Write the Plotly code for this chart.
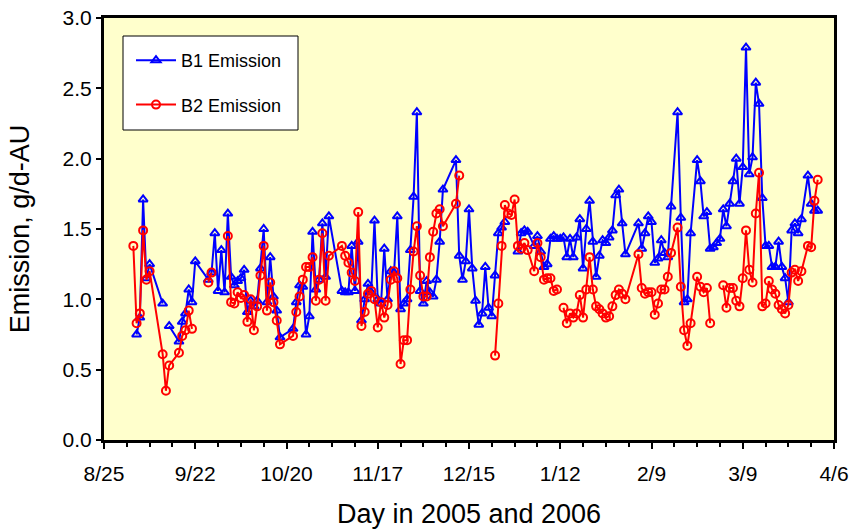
import pandas as pd
import plotly.graph_objects as go

START = pd.Timestamp("2005-08-25")

# day offset from 8/25/2005
DAY = [9, 10, 11, 12, 13, 14, 18, 19, 20, 23, 24, 25, 26, 27, 28,
       32, 33, 34, 35, 36, 37, 38, 39, 40, 41, 42, 43, 44, 45, 46, 47, 48, 49, 50, 51, 52, 53, 54,
       58, 59, 60, 61, 62, 63, 64, 65, 66, 67, 68, 69,
       73, 74, 75, 76, 77, 78, 79, 80, 81, 82, 83, 84, 85, 86, 87, 88, 89, 90, 91, 92, 93, 94,
       95, 96, 97, 98, 99, 100, 101, 102, 103, 104,
       108, 109, 110, 111, 112, 113, 114, 115, 116, 117, 118, 119, 120, 121, 122, 123, 124, 125,
       126, 127, 128, 129, 130,
       132, 133, 134, 135, 136, 137, 138, 139, 140, 141, 142, 143, 144, 145, 146, 147, 148, 149,
       150, 151, 152, 153, 154, 155, 156, 157, 158, 159, 160,
       164, 165, 166, 167, 168, 169, 170, 171, 172, 173, 174,
       176, 177, 178, 179, 180,
       182, 183, 184, 185, 186, 187, 188, 189, 190, 191, 192, 193, 194, 195, 196, 197, 198, 199,
       200, 201, 202, 203, 204, 205, 206, 207, 208, 209, 210, 211, 212, 213, 214,
       216, 217, 218, 219]

B1 = [None, 0.75, 0.87, 1.71, 1.15, 1.25, 0.97, None, 0.81, 0.70, 0.84, 0.90, 1.07, 0.98, 1.27,
      1.14, 1.19, 1.47, 1.06, 1.35, 1.05, 1.61, 1.16, 1.10, 1.13, 1.15, 1.21, 0.91, 0.99, 0.95, 0.99, 1.22, 1.50, 0.98, 1.30, 1.02, 0.92, 0.73,
      0.79, 0.98, 1.10, 1.09, 0.75, 0.88, 1.48, 1.07, 1.14, 1.54, 1.16, 1.59,
      1.06, 1.05, 1.05, 1.38, 1.06, 1.41, 0.85, 1.00, 1.11, 1.05, 1.56, 1.00, 0.97, 1.36, 1.00, 1.20, 1.19, 1.59, 0.93, 0.97, 1.00, 1.35,
      1.73, 2.33, 1.06, 0.97, 1.13, 1.05, 1.02, 1.14, 1.41, 1.78,
      1.99, 1.31, 1.14, 1.27, 1.64, 1.22, 0.99, 0.82, 0.90, 1.23, 0.94, 0.88, 1.17, 1.47, 1.51, 1.55, None, None,
      None, 1.34, 1.47, 1.49, 1.48,
      1.38, 1.45, 1.34, 1.23, 1.25, 1.43, 1.45, 1.43, 1.43, 1.44, 1.30, 1.43, 1.30, 1.44, 1.57, 1.22, 1.50, 1.70,
      1.41, 1.16, 1.31, 1.42, 1.40, 1.44, 1.49, 1.74, 1.78, 1.54, 1.32,
      1.54, 1.36, 1.47, 1.59, 1.55, 1.26, 1.29, 1.42, 1.33, 1.30, 1.66,
      2.33, 1.58, 0.98, 1.00, 1.47,
      1.99, 1.84, 1.59, 1.62, 1.36, 1.37, 1.40, 1.43, 1.64, 1.52, 1.68, 1.84, 2.00, 1.68, 1.94, 2.79, 1.89, 2.01,
      2.54, 2.39, 1.72, 1.38, 1.38, 1.23, 1.23, 1.41, 1.23, 1.15, 0.98, 1.49, 1.54, 1.47, 1.57,
      1.88, 1.68, 1.63, 1.63]

B2 = [1.38, 0.83, 0.90, 1.49, 1.14, 1.20, 0.61, 0.35, 0.53, 0.62, 0.74, 0.78, 0.92, 0.79, None,
      1.12, 1.19, None, None, None, None, 1.45, 0.98, 0.97, 1.05, 1.01, 1.03, 0.84, 1.00, 0.78, 0.95, 1.17, 1.38, 0.92, 1.12, 0.98, 0.85, 0.68,
      0.74, 0.91, 1.02, 1.14, 1.23, 1.23, 1.30, 0.99, 1.14, 1.47, 0.99, 1.31,
      1.38, 1.31, 1.26, 1.19, 1.13, 1.62, 0.81, 0.91, 1.04, 1.06, 1.00, 0.80, 0.98, 0.87, 0.96, 1.14, 1.20, 1.15, 0.54, 0.71, 0.71, 1.07,
      1.34, 1.52, 1.17, 1.02, 1.02, 1.30, 1.48, 1.61, 1.64, 1.52,
      1.68, 1.88, None, None, None, None, None, None, None, None, None, None, 0.60, 0.97, 1.38, 1.67, 1.61, 1.60,
      1.71, 1.38, 1.36, 1.40, 1.35,
      1.20, 1.40, 1.30, 1.14, 1.15, 1.15, 1.06, 1.07, None, 0.94, 0.83, 0.90, 0.87, 0.90, 1.03, 0.87, 1.07, 1.30,
      1.07, 0.95, 0.93, 0.90, 0.87, 0.88, 0.95, 1.03, 1.07, 1.04, 1.00,
      1.32, 1.08, 1.04, 1.05, 1.05, 0.89, 0.97, 1.07, 1.07, 1.16, 1.33,
      1.51, 1.09, 0.78, 0.67, 0.83,
      1.16, 1.09, 1.05, 1.08, 0.83, None, None, None, 1.10, 0.94, 1.08, 1.08, 0.99, 0.95, 1.15, 1.49, 1.21, 1.12,
      1.61, 1.90, 0.95, 0.97, 1.13, 1.07, 1.04, 0.96, 0.93, 0.90, 0.96, 1.19, 1.21, 1.13, 1.20,
      1.38, 1.37, 1.70, 1.85]

TICK_DAYS = [0, 28, 56, 84, 112, 140, 168, 196, 224]
TICK_LABELS = ["8/25", "9/22", "10/20", "11/17", "12/15", "1/12", "2/9", "3/9", "4/6"]

dates = [START + pd.Timedelta(days=d) for d in DAY]
tickvals = [START + pd.Timedelta(days=d) for d in TICK_DAYS]

FONT = "Liberation Sans, Arial, sans-serif"

# page geometry (body margin removed by post_script)
W, H = 852, 529
P_LEFT, P_RIGHT, P_TOP, P_BOTTOM = 104, 834, 18, 440   # plot area in page pixels
ML, MT = P_LEFT, P_TOP
MR, MB = W - P_RIGHT, H - P_BOTTOM
PW, PH = W - ML - MR, H - MT - MB


def px_x(p):
    return (p - ML) / PW


def px_y(p):
    return 1 - (p - MT) / PH


fig = go.Figure()
fig.add_trace(go.Scatter(
    x=dates, y=B1, mode="lines+markers", name="B1 Emission",
    line=dict(color="#0000FF", width=2),
    marker=dict(symbol="triangle-up-open", size=8, color="#0000FF", line=dict(width=2, color="#0000FF")),
    connectgaps=False, legendgroup="b1"))
fig.add_trace(go.Scatter(
    x=dates, y=B2, mode="lines+markers", name="B2 Emission",
    line=dict(color="#FF0000", width=2),
    marker=dict(symbol="circle-open", size=8, color="#FF0000", line=dict(width=2, color="#FF0000")),
    connectgaps=False, legendgroup="b2"))

# legend frame
fig.add_shape(type="rect", xref="paper", yref="paper",
              x0=px_x(123), x1=px_x(298), y0=px_y(130), y1=px_y(36),
              fillcolor="white", line=dict(color="black", width=1), layer="above")

fig.update_layout(
    width=W, height=H,
    margin=dict(l=ML, r=MR, t=MT, b=MB),
    paper_bgcolor="white", plot_bgcolor="#FFFFCC",
    font=dict(family=FONT, color="black"),
    showlegend=True,
    legend=dict(x=px_x(131), y=px_y(42), xanchor="left", yanchor="top",
                bgcolor="rgba(0,0,0,0)", borderwidth=0,
                font=dict(size=18, family=FONT), tracegroupgap=18,
                traceorder="grouped", itemwidth=40),
)
fig.update_xaxes(
    type="date", automargin=False,
    range=[START, START + pd.Timedelta(days=224)],
    tickvals=tickvals, ticktext=TICK_LABELS,
    ticks="outside", ticklen=6, tickwidth=2, tickcolor="black",
    minor=dict(dtick=7 * 86400000, tick0=START, ticks="outside", ticklen=4, tickwidth=2, tickcolor="black"),
    showline=True, linecolor="black", linewidth=3, mirror=True,
    showgrid=False, zeroline=False,
    tickfont=dict(size=21, family=FONT),
    ticklabelstandoff=7,
    title=dict(text="Day in 2005 and 2006", font=dict(size=27, family=FONT), standoff=22),
)
fig.update_yaxes(
    automargin=False,
    range=[0, 3], dtick=0.5, tick0=0, tickformat=".1f",
    ticks="outside", ticklen=5, tickwidth=2, tickcolor="black",
    showline=True, linecolor="black", linewidth=3, mirror=True,
    showgrid=False, zeroline=False,
    tickfont=dict(size=21, family=FONT),
    title=dict(text="Emission, g/d-AU", font=dict(size=27, family=FONT), standoff=26),
)

fig.write_html("out.html",
               config={"displayModeBar": False},
               post_script="document.body.style.margin='0';document.body.style.overflow='hidden';")
